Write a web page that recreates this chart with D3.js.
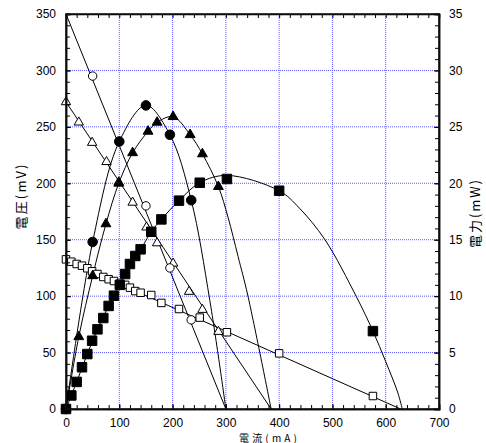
<!DOCTYPE html>
<html>
<head>
<meta charset="utf-8">
<script src="https://d3js.org/d3.v7.min.js"></script>
<style>
  body { margin: 0; background: #fff; }
  svg { display: block; }
  .tick text { font-family: "Liberation Sans", Arial, sans-serif; font-size: 12px; fill: #000; }
  .lbl { font-family: "Noto Sans CJK JP", sans-serif; font-size: 13px; fill: #000; }
</style>
</head>
<body>
<svg id="chart" width="486" height="443"></svg>
<script>
// circle series (open = voltage, filled = power)
var circVI = [50, 100, 150, 195, 235];
var circV  = [295, 237, 180, 125, 79];
var circPI = [0, 50, 100, 150, 195, 235];
var circP  = [0, 14.8, 23.7, 26.9, 24.3, 18.5];
var circFit = [[0, 350], [300, 0]];
var circCurve = [[0, 0], [50, 14.8], [100, 23.7], [150, 26.9], [195, 24.3], [235, 18.5], [270, 9.6], [300, 0]];

// triangle series
var triI = [0, 24, 49, 76, 99, 125, 151, 171, 201, 231, 256, 286];
var triV = [272, 254, 236, 219, 201, 183, 161, 147, 129, 104, 88, 68.5];
var triPI = [0, 24, 50, 75, 99, 125, 154, 171, 201, 233, 256, 286];
var triP  = [0, 6.4, 11.8, 16.4, 20, 22.7, 24.6, 25.4, 25.9, 24.3, 22.6, 19.7];
var triFit = [[0, 272], [385, 0]];
var triCurve = [[0, 0], [24, 6.4], [50, 11.8], [75, 16.4], [99, 20], [125, 22.7], [154, 24.6], [171, 25.4],
  [201, 25.9], [233, 24.3], [256, 22.6], [286, 19.7], [304, 17], [323, 13.5], [341, 10.1], [385, 0]];

// square series
var sqI = [0, 10, 20, 30, 40, 49, 59, 70, 80, 90, 101, 111, 120, 130, 140, 160, 179, 212, 251, 302, 400, 576];
var sqV = [132.6, 130.5, 128.5, 127, 124.7, 122, 119.6, 117, 115, 113.4, 111, 110, 107.5, 104.5, 103, 101, 94, 88.6, 81, 68, 49.3, 11.5];
var sqP = [0, 1.2, 2.4, 3.7, 4.87, 6.05, 7.06, 8.06, 9.13, 10.04, 11.0, 11.96, 12.85, 13.56, 14.15, 15.7, 16.8, 18.46, 20.05, 20.38, 19.34, 6.9];
var sqFit = [[0, 132], [628, 0]];
var sqCurve = [[0, 0], [20, 2.4], [40, 4.87], [59, 7.06], [80, 9.13], [101, 11.0], [120, 12.85], [140, 14.15],
  [160, 15.7], [179, 16.8], [212, 18.46], [251, 20.05], [302, 20.7], [400, 19.34], [438, 17.8], [486, 15.0],
  [545, 9.95], [576, 6.9], [600, 4.2], [623, 1.4], [631, 0]];

var xTicks = [0, 100, 200, 300, 400, 500, 600, 700];
var yTicks = [0, 50, 100, 150, 200, 250, 300, 350];
var y2Ticks = [0, 5, 10, 15, 20, 25, 30, 35];

var svg = d3.select("#chart"),
    margin = {top: 14, right: 47, bottom: 34, left: 66},
    width = +svg.attr("width") - margin.left - margin.right,
    height = +svg.attr("height") - margin.top - margin.bottom,
    g = svg.append("g").attr("transform", "translate(" + margin.left + "," + margin.top + ")");

var x = d3.scaleLinear().domain([0, 700]).range([0, width]);
var y = d3.scaleLinear().domain([0, 350]).range([height, 0]);
var y2 = d3.scaleLinear().domain([0, 35]).range([height, 0]);

// grid
var gridCol = "#5a5aff";
g.selectAll(".gx").data(xTicks.slice(1, -1)).enter().append("line")
    .attr("x1", function(d) { return x(d); }).attr("x2", function(d) { return x(d); })
    .attr("y1", 0).attr("y2", height)
    .attr("stroke", gridCol).attr("stroke-width", 1).attr("stroke-dasharray", "1,1");
g.selectAll(".gy").data(yTicks.slice(1, -1)).enter().append("line")
    .attr("y1", function(d) { return y(d); }).attr("y2", function(d) { return y(d); })
    .attr("x1", 0).attr("x2", width)
    .attr("stroke", gridCol).attr("stroke-width", 1).attr("stroke-dasharray", "1,1");

// lines
var lineV = d3.line().x(function(d) { return x(d[0]); }).y(function(d) { return y(d[1]); });
var lineP = d3.line().x(function(d) { return x(d[0]); }).y(function(d) { return y2(d[1]); })
    .curve(d3.curveCatmullRom.alpha(0.5));

[circFit, triFit, sqFit].forEach(function(f) {
  g.append("path").datum(f).attr("fill", "none").attr("stroke", "#000").attr("stroke-width", 1).attr("d", lineV);
});
[circCurve, triCurve, sqCurve].forEach(function(c) {
  g.append("path").datum(c).attr("fill", "none").attr("stroke", "#000").attr("stroke-width", 1).attr("d", lineP);
});

// markers
function marks(xs, ys, scale, type, size, filled) {
  var sym = d3.symbol().type(type).size(size);
  g.append("g").selectAll("path").data(d3.zip(xs, ys)).enter().append("path")
      .attr("transform", function(d) { return "translate(" + x(d[0]) + "," + scale(d[1]) + ")"; })
      .attr("d", sym)
      .attr("fill", filled ? "#000" : "#fff")
      .attr("stroke", "#000").attr("stroke-width", 1);
}
marks(sqI, sqV, y, d3.symbolSquare, 56, false);
marks(triI, triV, y, d3.symbolTriangle, 38, false);
marks(circVI, circV, y, d3.symbolCircle, 56, false);
marks(triPI, triP, y2, d3.symbolTriangle, 42, true);
marks(circPI, circP, y2, d3.symbolCircle, 72, true);
marks(sqI, sqP, y2, d3.symbolSquare, 90, true);

// axes: ticks pointing inward
function minor(step, max) { return d3.range(0, max + 0.001, step); }
g.append("g").attr("transform", "translate(0," + height + ")")
    .call(d3.axisBottom(x).tickValues(minor(20, 700)).tickSize(-4).tickFormat(""));
g.append("g").attr("transform", "translate(0," + height + ")")
    .call(d3.axisBottom(x).tickValues(xTicks).tickSize(-5).tickPadding(9).tickFormat(d3.format("d")));
g.append("g")
    .call(d3.axisTop(x).tickValues(minor(20, 700)).tickSize(-4).tickFormat(""));
g.append("g")
    .call(d3.axisLeft(y).tickValues(minor(10, 350)).tickSize(-4).tickFormat(""));
g.append("g")
    .call(d3.axisLeft(y).tickValues(yTicks).tickSize(-5).tickPadding(10).tickFormat(d3.format("d")));
g.append("g").attr("transform", "translate(" + width + ",0)")
    .call(d3.axisRight(y2).tickValues(minor(1, 35)).tickSize(-4).tickFormat(""));
g.append("g").attr("transform", "translate(" + width + ",0)")
    .call(d3.axisRight(y2).tickValues(y2Ticks).tickSize(-5).tickPadding(10).tickFormat(d3.format("d")));
g.selectAll(".domain").attr("stroke", "#000").attr("stroke-width", 1.5);
g.selectAll(".tick line").attr("stroke", "#000");

// frame
g.append("rect").attr("width", width).attr("height", height)
    .attr("fill", "none").attr("stroke", "#111").attr("stroke-width", 1.5);

// axis titles
svg.append("text").attr("class", "lbl")
    .attr("transform", "translate(20,197) rotate(-90)")
    .attr("text-anchor", "middle").attr("dominant-baseline", "central")
    .attr("textLength", 65).attr("lengthAdjust", "spacing")
    .text("電圧(mV)");
svg.append("text").attr("class", "lbl")
    .attr("transform", "translate(474,214) rotate(-90)")
    .attr("text-anchor", "middle").attr("dominant-baseline", "central")
    .attr("textLength", 68).attr("lengthAdjust", "spacing")
    .text("電力(mW)");
svg.append("text").attr("class", "lbl")
    .attr("x", 268).attr("y", 441.5)
    .attr("text-anchor", "middle")
    .style("font-size", "10px")
    .attr("textLength", 58).attr("lengthAdjust", "spacing")
    .text("電流(mA)");
</script>
</body>
</html>
